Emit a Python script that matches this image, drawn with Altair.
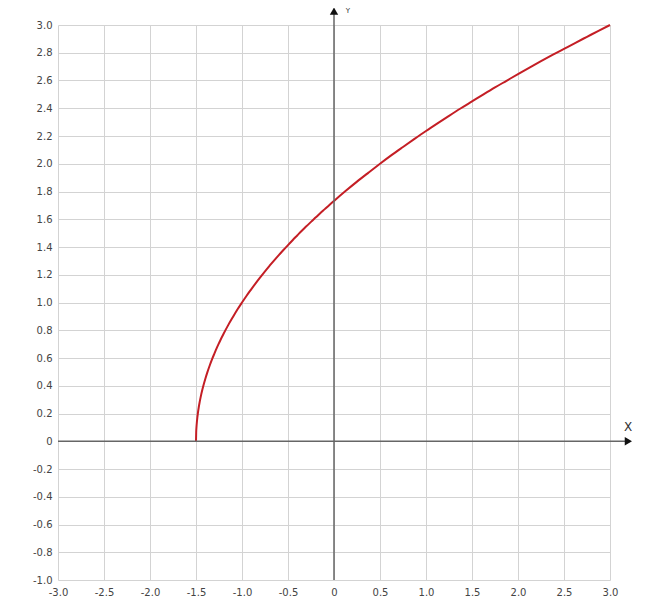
import altair as alt
import pandas as pd

# Curve points
curve_x = [-1.5, -1.498, -1.495, -1.49, -1.485, -1.48, -1.47, -1.46, -1.45, -1.43, -1.42, -1.4,
           -1.375, -1.35, -1.325, -1.3, -1.275, -1.25, -1.225, -1.2, -1.15, -1.1, -1.05, -1.0,
           -0.95, -0.9, -0.85, -0.8, -0.75, -0.7, -0.65, -0.6, -0.55, -0.5, -0.45, -0.4, -0.35,
           -0.3, -0.25, -0.2, -0.15, -0.1, -0.05, 0.0, 0.125, 0.25, 0.375, 0.5, 0.625, 0.75,
           0.875, 1.0, 1.125, 1.25, 1.375, 1.5, 1.625, 1.75, 1.875, 2.0, 2.125, 2.25, 2.375,
           2.5, 2.625, 2.75, 2.875, 3.0]
curve_y = [0.0, 0.063, 0.10, 0.141, 0.173, 0.20, 0.245, 0.283, 0.316, 0.374, 0.40, 0.447,
           0.5, 0.548, 0.592, 0.632, 0.671, 0.707, 0.742, 0.775, 0.837, 0.894, 0.949, 1.0,
           1.049, 1.095, 1.140, 1.183, 1.225, 1.265, 1.304, 1.342, 1.378, 1.414, 1.449, 1.483, 1.517,
           1.549, 1.581, 1.612, 1.643, 1.673, 1.703, 1.732, 1.803, 1.871, 1.936, 2.0, 2.062, 2.121,
           2.179, 2.236, 2.291, 2.345, 2.398, 2.449, 2.5, 2.550, 2.598, 2.646, 2.693, 2.739, 2.784,
           2.828, 2.872, 2.915, 2.958, 3.0]

x_ticks = [-3.0, -2.5, -2.0, -1.5, -1.0, -0.5, 0.0, 0.5, 1.0, 1.5, 2.0, 2.5, 3.0]
y_ticks = [-1.0, -0.8, -0.6, -0.4, -0.2, 0.0, 0.2, 0.4, 0.6, 0.8, 1.0, 1.2, 1.4, 1.6, 1.8,
           2.0, 2.2, 2.4, 2.6, 2.8, 3.0]

x_axis_line = {"x": [-3.0], "x2": [3.2], "y": [0.0]}
y_axis_line = {"x": [0.0], "y": [-1.0], "y2": [3.08]}
arrow_x = {"x": [3.2], "y": [0.0]}
arrow_y = {"x": [0.0], "y": [3.1]}
label_x = {"x": [3.196], "y": [0.103], "t": ["X"]}
label_y = {"x": [0.152], "y": [3.1], "t": ["Y"]}

FONT = "DejaVu Sans"
GRID = "#d3d3d3"
AXIS = "#666666"

xs = alt.Scale(domain=[-3, 3], nice=False)
ys = alt.Scale(domain=[-1, 3], nice=False)
label_expr = "datum.value == 0 ? '0' : replace(format(datum.value, '.1f'), '\u2212', '-')"

x_axis = alt.Axis(values=x_ticks, labelExpr=label_expr, grid=True, gridColor=GRID, gridWidth=1,
                  domain=False, ticks=False, labelPadding=7, title=None, labelFont=FONT,
                  labelFontSize=10, labelColor="#444444", labelFlush=False, labelOverlap=False)
y_axis = alt.Axis(values=y_ticks, labelExpr=label_expr, grid=True, gridColor=GRID, gridWidth=1,
                  domain=False, ticks=False, labelPadding=6, title=None, labelFont=FONT,
                  labelFontSize=10, labelColor="#444444", labelFlush=False, labelOverlap=False)


def X():
    return alt.X("x:Q", scale=xs, axis=x_axis)


def Y():
    return alt.Y("y:Q", scale=ys, axis=y_axis)


df = pd.DataFrame({"x": curve_x, "y": curve_y})

curve = alt.Chart(df).mark_line(color="#c41e25", strokeWidth=2, interpolate="monotone").encode(
    x=X(), y=Y())
xline = alt.Chart(pd.DataFrame(x_axis_line)).mark_rule(color=AXIS, strokeWidth=1.5).encode(
    x=X(), x2="x2:Q", y=Y())
yline = alt.Chart(pd.DataFrame(y_axis_line)).mark_rule(color=AXIS, strokeWidth=1.5).encode(
    x=X(), y=Y(), y2="y2:Q")
ax_arrow = alt.Chart(pd.DataFrame(arrow_x)).mark_point(
    shape="triangle-right", filled=True, color="#111111", size=70, opacity=1).encode(x=X(), y=Y())
ay_arrow = alt.Chart(pd.DataFrame(arrow_y)).mark_point(
    shape="triangle-up", filled=True, color="#111111", size=70, opacity=1).encode(x=X(), y=Y())
tx = alt.Chart(pd.DataFrame(label_x)).mark_text(font=FONT, fontSize=12, color="#333333").encode(
    x=X(), y=Y(), text="t:N")
ty = alt.Chart(pd.DataFrame(label_y)).mark_text(font=FONT, fontSize=7, color="#333333").encode(
    x=X(), y=Y(), text="t:N")

chart = alt.layer(curve, xline, yline, ax_arrow, ay_arrow, tx, ty).properties(
    width=552, height=555,
    autosize=alt.AutoSizeParams(type="none"),
    padding={"left": 50, "top": 17, "right": 40, "bottom": 20},
).configure_view(stroke=None).configure_axis(labelOverlap=False)

chart.save("out.html", embed_options={"renderer": "svg", "actions": False})
